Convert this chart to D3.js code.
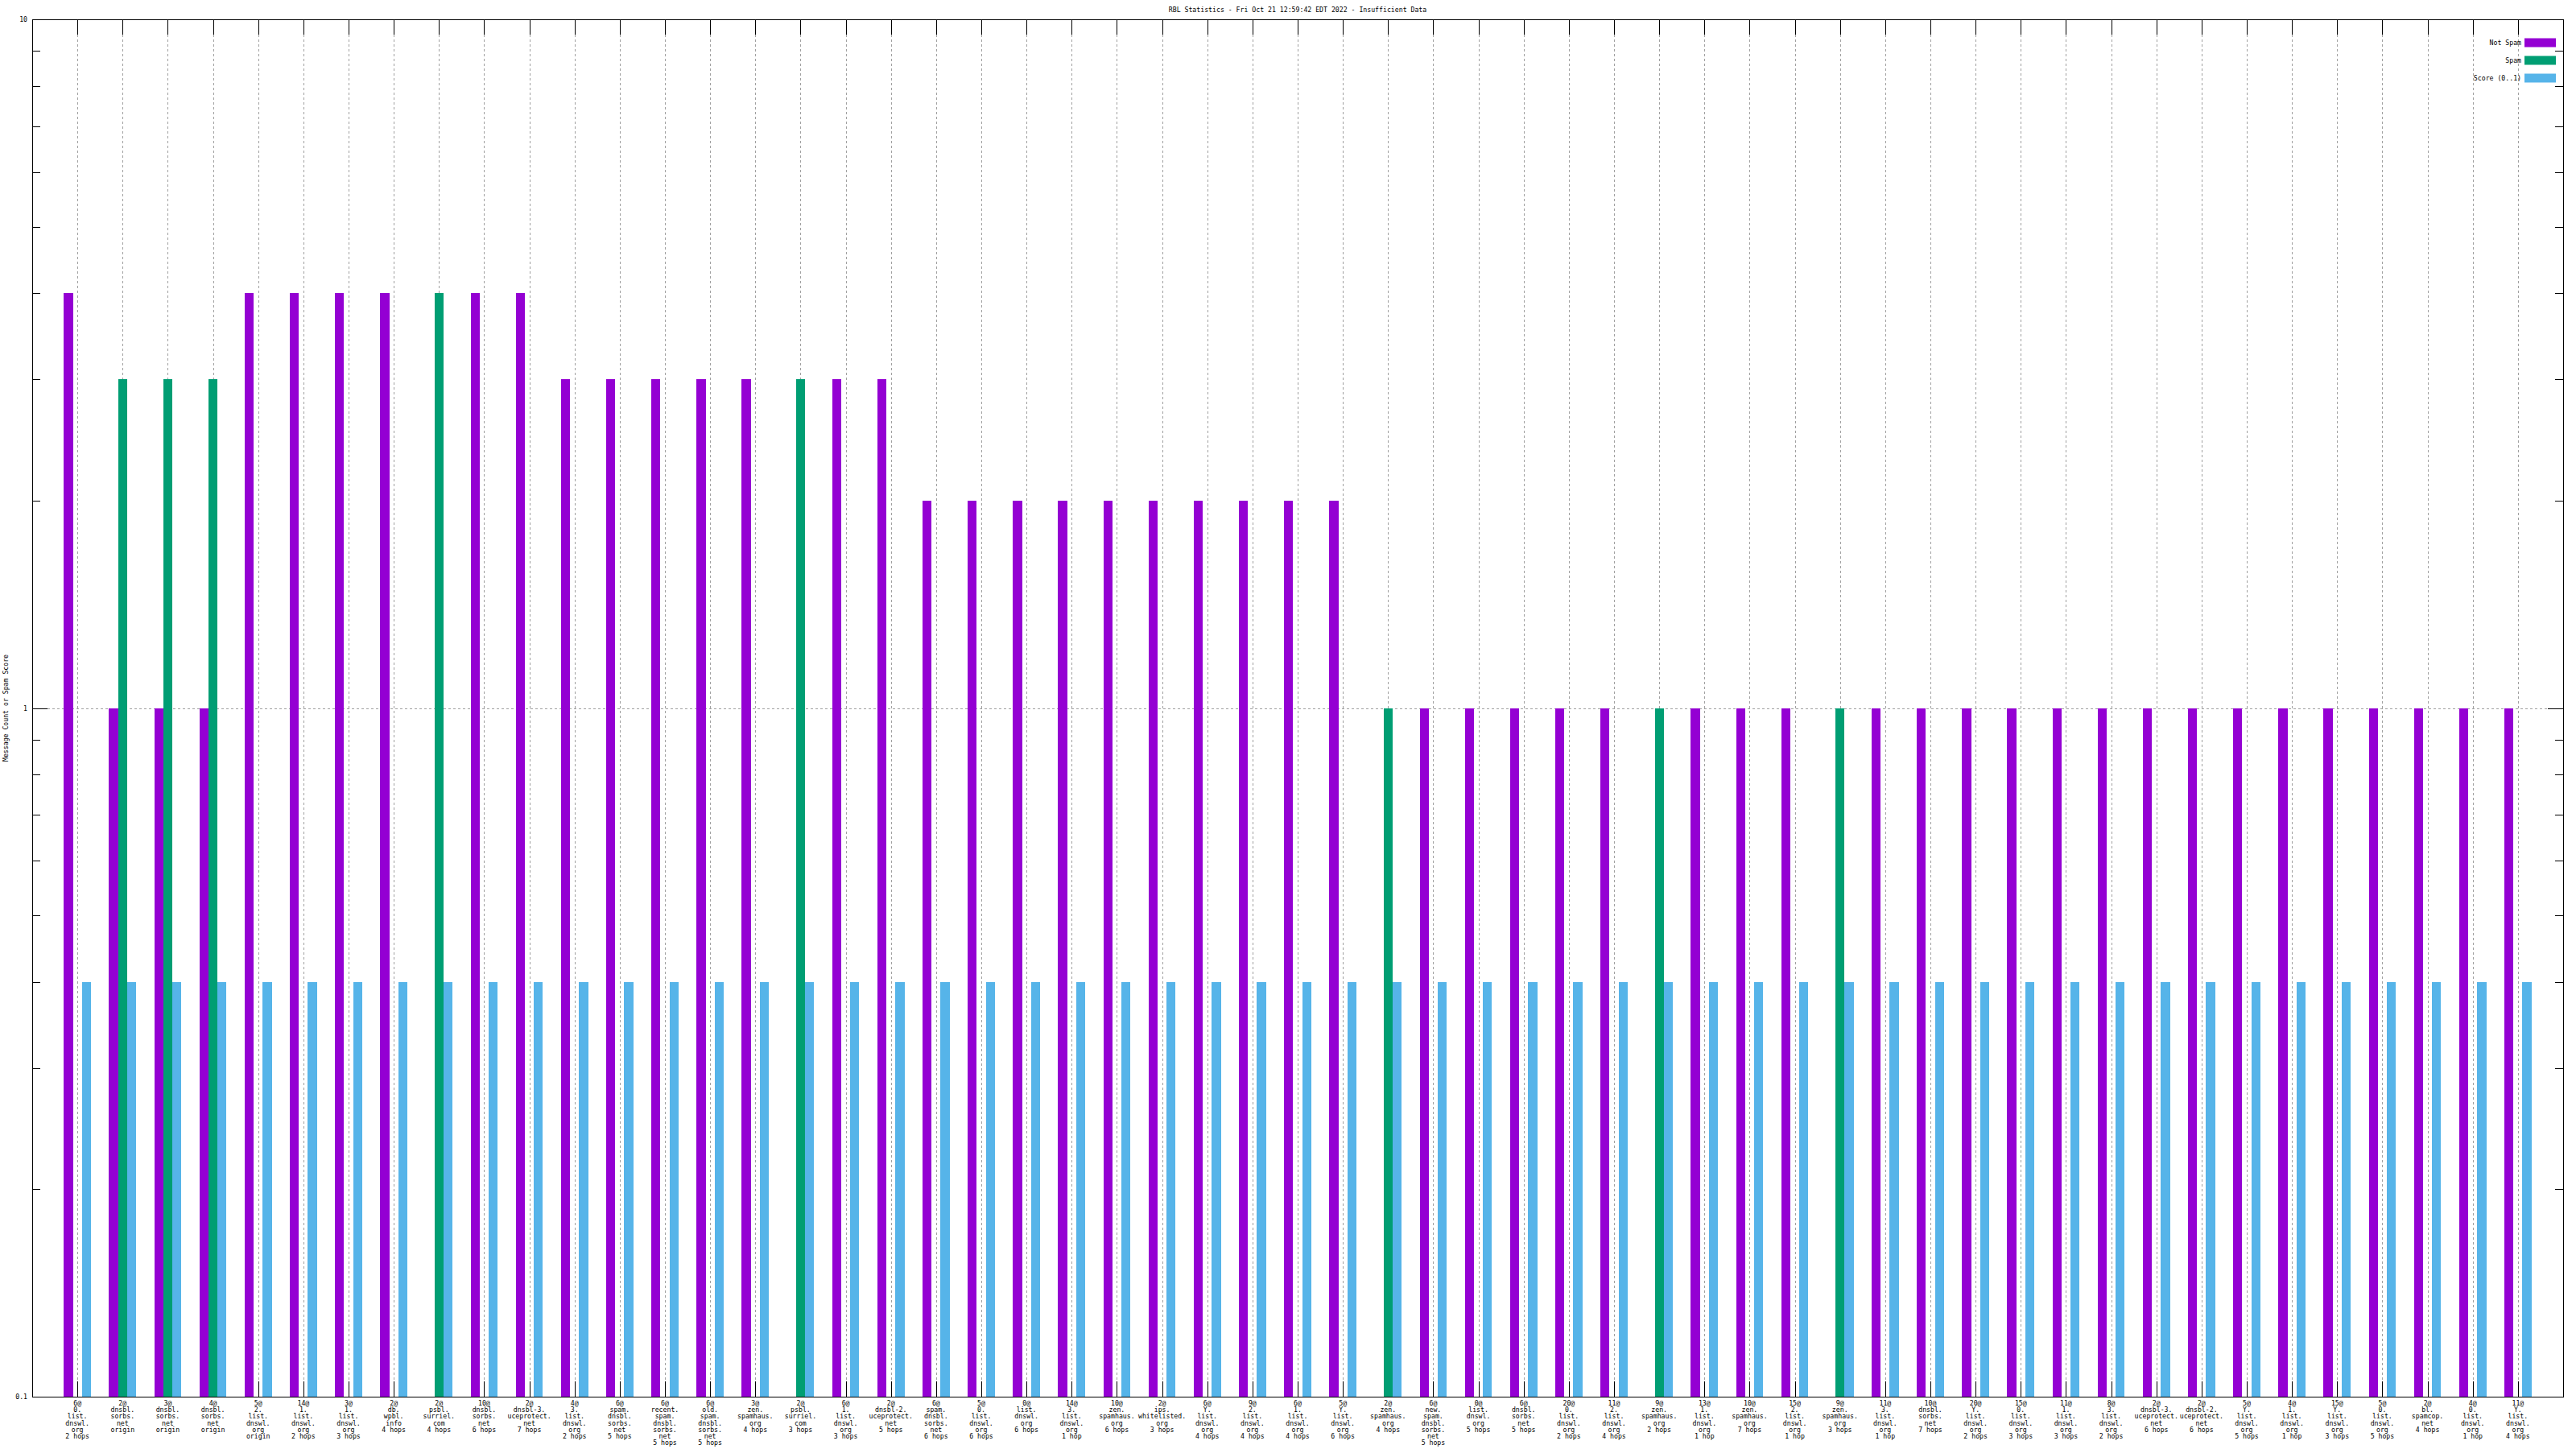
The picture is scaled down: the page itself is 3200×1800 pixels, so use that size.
<!DOCTYPE html>
<html>
<head>
<meta charset="utf-8">
<script src="https://cdn.jsdelivr.net/npm/d3@7"></script>
<style>
  html, body { margin: 0; padding: 0; background: #fff; }
  svg { display: block; }
  text { font-family: "DejaVu Sans Mono", monospace; font-size: 8.2px; fill: #000; }
</style>
</head>
<body>
<svg id="chart" width="3200" height="1800"></svg>
<script>
const titleText = "RBL Statistics - Fri Oct 21 12:59:42 EDT 2022 - Insufficient Data";
const yLabel = "Message Count or Spam Score";
const seriesNames = ["Not Spam", "Spam", "Score (0..1)"];
const seriesColors = ["#9400d3", "#009e73", "#56b4e9"];

const categories = [
"6@\n0.\nlist.\ndnswl.\norg\n2 hops",
"2@\ndnsbl.\nsorbs.\nnet\norigin",
"3@\ndnsbl.\nsorbs.\nnet\norigin",
"4@\ndnsbl.\nsorbs.\nnet\norigin",
"5@\n2.\nlist.\ndnswl.\norg\norigin",
"14@\n1.\nlist.\ndnswl.\norg\n2 hops",
"3@\n1.\nlist.\ndnswl.\norg\n3 hops",
"2@\ndb.\nwpbl.\ninfo\n4 hops",
"2@\npsbl.\nsurriel.\ncom\n4 hops",
"10@\ndnsbl.\nsorbs.\nnet\n6 hops",
"2@\ndnsbl-3.\nuceprotect.\nnet\n7 hops",
"4@\n3.\nlist.\ndnswl.\norg\n2 hops",
"6@\nspam.\ndnsbl.\nsorbs.\nnet\n5 hops",
"6@\nrecent.\nspam.\ndnsbl.\nsorbs.\nnet\n5 hops",
"6@\nold.\nspam.\ndnsbl.\nsorbs.\nnet\n5 hops",
"3@\nzen.\nspamhaus.\norg\n4 hops",
"2@\npsbl.\nsurriel.\ncom\n3 hops",
"6@\n1.\nlist.\ndnswl.\norg\n3 hops",
"2@\ndnsbl-2.\nuceprotect.\nnet\n5 hops",
"6@\nspam.\ndnsbl.\nsorbs.\nnet\n6 hops",
"5@\n0.\nlist.\ndnswl.\norg\n6 hops",
"0@\nlist.\ndnswl.\norg\n6 hops",
"14@\n3.\nlist.\ndnswl.\norg\n1 hop",
"10@\nzen.\nspamhaus.\norg\n6 hops",
"2@\nips.\nwhitelisted.\norg\n3 hops",
"6@\nY.\nlist.\ndnswl.\norg\n4 hops",
"9@\n2.\nlist.\ndnswl.\norg\n4 hops",
"6@\n1.\nlist.\ndnswl.\norg\n4 hops",
"5@\nY.\nlist.\ndnswl.\norg\n6 hops",
"2@\nzen.\nspamhaus.\norg\n4 hops",
"6@\nnew.\nspam.\ndnsbl.\nsorbs.\nnet\n5 hops",
"0@\nlist.\ndnswl.\norg\n5 hops",
"6@\ndnsbl.\nsorbs.\nnet\n5 hops",
"20@\n0.\nlist.\ndnswl.\norg\n2 hops",
"11@\n2.\nlist.\ndnswl.\norg\n4 hops",
"9@\nzen.\nspamhaus.\norg\n2 hops",
"13@\n1.\nlist.\ndnswl.\norg\n1 hop",
"10@\nzen.\nspamhaus.\norg\n7 hops",
"15@\n2.\nlist.\ndnswl.\norg\n1 hop",
"9@\nzen.\nspamhaus.\norg\n3 hops",
"11@\n3.\nlist.\ndnswl.\norg\n1 hop",
"10@\ndnsbl.\nsorbs.\nnet\n7 hops",
"20@\nY.\nlist.\ndnswl.\norg\n2 hops",
"15@\n0.\nlist.\ndnswl.\norg\n3 hops",
"11@\n1.\nlist.\ndnswl.\norg\n3 hops",
"8@\n3.\nlist.\ndnswl.\norg\n2 hops",
"2@\ndnsbl-3.\nuceprotect.\nnet\n6 hops",
"2@\ndnsbl-2.\nuceprotect.\nnet\n6 hops",
"5@\nY.\nlist.\ndnswl.\norg\n5 hops",
"4@\n1.\nlist.\ndnswl.\norg\n1 hop",
"15@\nY.\nlist.\ndnswl.\norg\n3 hops",
"5@\n0.\nlist.\ndnswl.\norg\n5 hops",
"2@\nbl.\nspamcop.\nnet\n4 hops",
"4@\n0.\nlist.\ndnswl.\norg\n1 hop",
"11@\nY.\nlist.\ndnswl.\norg\n4 hops"
];

const notSpam = [4,1,1,1,4,4,4,4,0,4, 4,3,3,3,3,3,0,3,3,2, 2,2,2,2,2,2,2,2,2,0, 1,1,1,1,1,0,1,1,1,0, 1,1,1,1,1,1,1,1,1,1, 1,1,1,1,1];
const spam    = [0,3,3,3,0,0,0,0,4,0, 0,0,0,0,0,0,3,0,0,0, 0,0,0,0,0,0,0,0,0,1, 0,0,0,0,0,1,0,0,0,1, 0,0,0,0,0,0,0,0,0,0, 0,0,0,0,0];
const score   = [0.4,0.4,0.4,0.4,0.4,0.4,0.4,0.4,0.4,0.4, 0.4,0.4,0.4,0.4,0.4,0.4,0.4,0.4,0.4,0.4, 0.4,0.4,0.4,0.4,0.4,0.4,0.4,0.4,0.4,0.4, 0.4,0.4,0.4,0.4,0.4,0.4,0.4,0.4,0.4,0.4, 0.4,0.4,0.4,0.4,0.4,0.4,0.4,0.4,0.4,0.4, 0.4,0.4,0.4,0.4,0.4];

const yMajorTicks = [0.1, 1, 10];
const yTickLabels = ["0.1", "1", "10"];

const series = [notSpam, spam, score];

const svg = d3.select("#chart");
const L = 40, R = 3184, T = 24, B = 1735;
const x = d3.scaleLinear().domain([-1, categories.length]).range([L, R]);
const y = d3.scaleLog().domain([0.1, 10]).range([B, T]);
const unit = x(1) - x(0);
const barW = unit * 0.2;

const minorTicks = [];
[0.1, 1].forEach(d => { for (let k = 2; k <= 9; k++) minorTicks.push(d * k); });

const grid = svg.append("g").attr("class", "grid").attr("shape-rendering", "crispEdges");
// vertical grid at each category
grid.selectAll("line.v").data(categories).join("line").attr("class", "v")
  .attr("x1", (d, i) => Math.round(x(i)) + 0.5).attr("x2", (d, i) => Math.round(x(i)) + 0.5)
  .attr("y1", T + 19).attr("y2", B - 19)
  .attr("stroke", "#a0a0a0").attr("stroke-width", 1).attr("stroke-dasharray", "3,3");
// horizontal grid at y=1
grid.append("line")
  .attr("x1", L + 19).attr("x2", R - 19)
  .attr("y1", Math.round(y(1)) + 0.5).attr("y2", Math.round(y(1)) + 0.5)
  .attr("stroke", "#a0a0a0").attr("stroke-width", 1).attr("stroke-dasharray", "3,3");

// ticks (drawn behind bars)
const ticks = svg.append("g").attr("shape-rendering", "crispEdges").attr("stroke", "#000").attr("stroke-width", 1);
categories.forEach((c, i) => {
  const xx = Math.round(x(i)) + 0.5;
  ticks.append("line").attr("x1", xx).attr("x2", xx).attr("y1", B).attr("y2", B - 19);
  ticks.append("line").attr("x1", xx).attr("x2", xx).attr("y1", T).attr("y2", T + 19);
});
minorTicks.forEach(v => {
  const yy = Math.round(y(v)) + 0.5;
  ticks.append("line").attr("x1", L).attr("x2", L + 10).attr("y1", yy).attr("y2", yy);
  ticks.append("line").attr("x1", R).attr("x2", R - 10).attr("y1", yy).attr("y2", yy);
});
yMajorTicks.forEach(v => {
  const yy = Math.round(y(v)) + 0.5;
  ticks.append("line").attr("x1", L).attr("x2", L + 19).attr("y1", yy).attr("y2", yy);
  ticks.append("line").attr("x1", R).attr("x2", R - 19).attr("y1", yy).attr("y2", yy);
});

// bars
const bars = svg.append("g").attr("shape-rendering", "crispEdges");
series.forEach((vals, s) => {
  bars.append("g").attr("fill", seriesColors[s])
    .selectAll("rect")
    .data(vals.map((v, i) => ({ v, i })).filter(d => d.v > 0))
    .join("rect")
    .attr("x", d => x(d.i + (s - 1) * 0.2) - barW / 2)
    .attr("width", barW)
    .attr("y", d => y(d.v))
    .attr("height", d => B - y(d.v));
});

// border
svg.append("rect").attr("x", L + 0.5).attr("y", T + 0.5)
  .attr("width", R - L).attr("height", B - T)
  .attr("fill", "none").attr("stroke", "#000").attr("stroke-width", 1.2)
  .attr("shape-rendering", "crispEdges");

// y tick labels
svg.append("g").selectAll("text").data(yMajorTicks).join("text")
  .attr("x", 34).attr("y", d => y(d) + 3)
  .attr("text-anchor", "end")
  .text((d, i) => yTickLabels[i]);

// x tick labels
const xl = svg.append("g");
categories.forEach((c, i) => {
  const t = xl.append("text").attr("text-anchor", "middle")
    .attr("x", x(i)).attr("y", B + 11);
  c.split("\n").forEach((line, k) => {
    t.append("tspan").attr("x", x(i)).attr("dy", k === 0 ? 0 : 8.2).text(line);
  });
});

// title
svg.append("text").attr("x", (L + R) / 2).attr("y", 15).attr("text-anchor", "middle").text(titleText);

// y label
svg.append("text").attr("transform", `translate(10,${y(1)}) rotate(-90)`)
  .attr("text-anchor", "middle").text(yLabel);

// legend
const lg = svg.append("g");
seriesNames.forEach((n, s) => {
  const cy = 53 + s * 22;
  lg.append("text").attr("x", 3132).attr("y", cy + 3).attr("text-anchor", "end").text(n);
  lg.append("rect").attr("x", 3136).attr("y", cy - 5.5).attr("width", 39).attr("height", 11)
    .attr("fill", seriesColors[s]);
});
</script>
</body>
</html>
